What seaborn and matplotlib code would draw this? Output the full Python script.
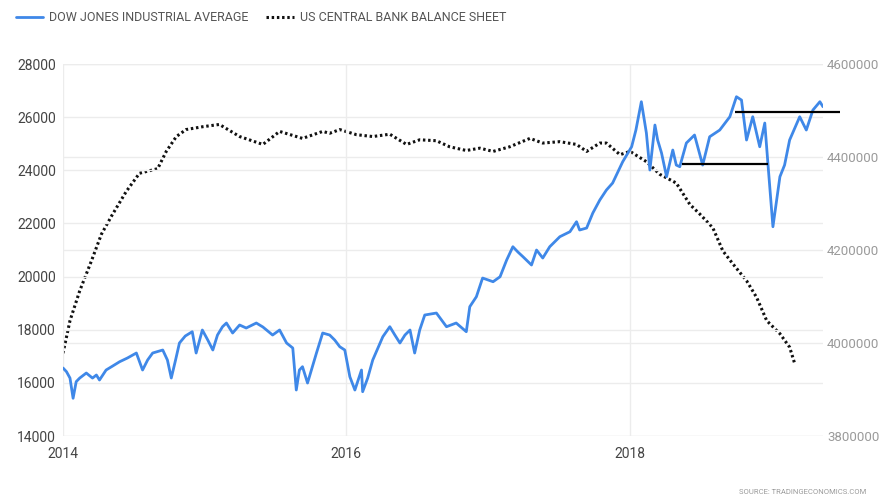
import matplotlib
matplotlib.use("Agg")
import matplotlib.pyplot as plt
import matplotlib.dates as mdates
from matplotlib.lines import Line2D
from matplotlib.ticker import StrMethodFormatter
import pandas as pd
import seaborn as sns

# Dow Jones Industrial Average (left axis)
dow_dates = [
    "2014-01-01", "2014-01-10", "2014-01-19", "2014-01-27", "2014-02-04", "2014-02-13",
    "2014-03-02", "2014-03-18", "2014-03-28", "2014-04-05", "2014-04-22", "2014-05-09",
    "2014-05-27", "2014-06-16", "2014-07-09", "2014-07-25", "2014-08-07", "2014-08-20",
    "2014-09-15", "2014-09-27", "2014-10-07", "2014-10-18", "2014-10-28", "2014-11-12",
    "2014-11-30", "2014-12-10", "2014-12-26", "2015-01-09", "2015-01-22", "2015-02-03",
    "2015-02-16", "2015-02-26", "2015-03-14", "2015-04-01", "2015-04-18", "2015-05-14",
    "2015-05-31", "2015-06-25", "2015-07-13", "2015-07-31", "2015-08-16", "2015-08-25",
    "2015-09-02", "2015-09-10", "2015-09-23", "2015-10-16", "2015-11-01", "2015-11-19",
    "2015-12-02", "2015-12-15", "2015-12-28", "2016-01-10", "2016-01-23", "2016-02-09",
    "2016-02-12", "2016-02-25", "2016-03-09", "2016-04-04", "2016-04-22", "2016-05-05",
    "2016-05-18", "2016-05-31", "2016-06-13", "2016-06-25", "2016-07-08", "2016-07-21",
    "2016-08-20", "2016-09-15", "2016-10-10", "2016-11-05", "2016-11-14", "2016-12-01",
    "2016-12-17", "2017-01-13", "2017-01-31", "2017-02-17", "2017-03-05", "2017-03-18",
    "2017-03-31", "2017-04-22", "2017-05-05", "2017-05-21", "2017-06-08", "2017-07-04",
    "2017-07-30", "2017-08-16", "2017-08-24", "2017-09-11", "2017-09-27", "2017-10-15",
    "2017-11-01", "2017-11-17", "2017-12-13", "2018-01-05", "2018-01-16", "2018-01-30",
    "2018-02-12", "2018-02-21", "2018-03-06", "2018-03-13", "2018-03-23", "2018-04-05",
    "2018-04-21", "2018-04-30", "2018-05-09", "2018-05-26", "2018-06-16", "2018-07-07",
    "2018-07-25", "2018-08-20", "2018-09-15", "2018-10-02", "2018-10-15", "2018-10-28",
    "2018-11-13", "2018-12-01", "2018-12-14", "2018-12-22", "2019-01-04", "2019-01-22",
    "2019-02-03", "2019-02-16", "2019-03-14", "2019-03-31", "2019-04-17", "2019-05-05",
    "2019-05-13",
]
dow_values = [
    16560, 16420, 16180, 15420, 16045, 16180,
    16370, 16180, 16295, 16107, 16483, 16634,
    16796, 16935, 17123, 16483, 16860, 17123,
    17236, 16860, 16182, 16860, 17500, 17763,
    17925, 17123, 17989, 17612, 17236, 17800,
    18113, 18252, 17876, 18177, 18064, 18252,
    18102, 17800, 17989, 17500, 17311, 15731,
    16483, 16608, 15994, 17123, 17876, 17800,
    17612, 17360, 17236, 16231, 15731, 16483,
    15667, 16182, 16860, 17737, 18113, 17800,
    17500, 17800, 17989, 17123, 17989, 18553,
    18628, 18113, 18252, 17925, 18866, 19242,
    19945, 19806, 19994, 20623, 21123, 20924,
    20747, 20435, 20999, 20698, 21123, 21500,
    21688, 22064, 21752, 21827, 22392, 22881,
    23257, 23520, 24322, 24886, 25515, 26580,
    25402, 24010, 25703, 25139, 24650, 23758,
    24762, 24197, 24134, 25026, 25327, 24197,
    25262, 25515, 26015, 26768, 26643, 25139,
    26015, 24886, 25778, 24272, 21876, 23758,
    24197, 25139, 26015, 25515, 26267, 26580,
    26392,
]

# US central bank balance sheet (right axis)
fed_dates = [
    "2014-01-01", "2014-01-19", "2014-02-13", "2014-03-15", "2014-04-10", "2014-05-06",
    "2014-06-13", "2014-07-17", "2014-09-02", "2014-09-24", "2014-10-20", "2014-11-14",
    "2014-12-26", "2015-02-08", "2015-04-01", "2015-05-31", "2015-07-13", "2015-09-10",
    "2015-11-01", "2015-11-19", "2015-12-15", "2016-01-27", "2016-03-09", "2016-04-22",
    "2016-06-04", "2016-07-08", "2016-08-20", "2016-09-23", "2016-11-05", "2016-12-10",
    "2017-01-13", "2017-02-25", "2017-04-18", "2017-05-21", "2017-07-04", "2017-08-16",
    "2017-09-11", "2017-10-15", "2017-11-01", "2017-12-06", "2018-01-01", "2018-02-12",
    "2018-03-18", "2018-04-30", "2018-06-04", "2018-06-30", "2018-08-02", "2018-08-28",
    "2018-09-23", "2018-10-28", "2018-11-23", "2018-12-19", "2019-01-22", "2019-02-16",
    "2019-03-01",
]
fed_values = [
    3978000, 4048000, 4112000, 4176000, 4234000, 4273000,
    4326000, 4365000, 4375000, 4412000, 4444000, 4459000,
    4465000, 4470000, 4444000, 4427000, 4455000, 4440000,
    4455000, 4451000, 4459000, 4448000, 4444000, 4449000,
    4427000, 4437000, 4435000, 4422000, 4414000, 4419000,
    4412000, 4422000, 4440000, 4430000, 4433000, 4427000,
    4412000, 4430000, 4430000, 4405000, 4412000, 4390000,
    4363000, 4344000, 4298000, 4277000, 4248000, 4198000,
    4170000, 4134000, 4098000, 4048000, 4020000, 3991000,
    3956000,
]

# Horizontal reference levels drawn on the Dow
support_dates = ["2018-05-14", "2018-12-22"]
support_level = 24250
resistance_dates = ["2018-09-28", "2019-06-25"]
resistance_level = 26200

left_ticks = [14000, 16000, 18000, 20000, 22000, 24000, 26000, 28000]
right_ticks = [3800000, 4000000, 4200000, 4400000, 4600000]
year_ticks = ["2014-01-01", "2016-01-01", "2018-01-01"]
x_range = ["2014-01-01", "2019-05-13"]

labels = ["DOW JONES INDUSTRIAL AVERAGE", "US CENTRAL BANK BALANCE SHEET"]
source_note = "SOURCE: TRADINGECONOMICS.COM"

dow = pd.DataFrame({"date": pd.to_datetime(dow_dates), "value": dow_values})
fed = pd.DataFrame({"date": pd.to_datetime(fed_dates), "value": fed_values})

sns.set_theme(style="white")
plt.rcParams["font.family"] = ["Roboto", "DejaVu Sans"]

BLUE = "#3f88e8"
GRID = "#ececec"
DOTS = (0, (0.8, 0.9))

fig = plt.figure(figsize=(8.83, 4.99), dpi=100)
ax = fig.add_axes([63 / 883, 1 - 436 / 499, 760 / 883, 372 / 499])
ax2 = ax.twinx()

# balance sheet axis sits behind the Dow axis
ax.set_zorder(ax2.get_zorder() + 1)
ax.patch.set_visible(False)

sns.lineplot(data=fed, x="date", y="value", ax=ax2, color="#111111",
             linewidth=2.2, linestyle=DOTS, legend=False)
sns.lineplot(data=dow, x="date", y="value", ax=ax, color=BLUE,
             linewidth=2.0, legend=False)

for dates, level in [(support_dates, support_level), (resistance_dates, resistance_level)]:
    ax.plot(pd.to_datetime(dates), [level, level], color="black", linewidth=1.6,
            clip_on=False, solid_capstyle="butt")

ax.set_xlim(pd.to_datetime(x_range))
ax.set_ylim(left_ticks[0], left_ticks[-1])
ax2.set_ylim(right_ticks[0], right_ticks[-1])
ax.set_yticks(left_ticks)
ax2.set_yticks(right_ticks)
ax2.yaxis.set_major_formatter(StrMethodFormatter("{x:.0f}"))
ax.set_xticks(pd.to_datetime(year_ticks))
ax.xaxis.set_major_formatter(mdates.DateFormatter("%Y"))

ax.grid(True, axis="both", color=GRID, linewidth=1.0)
ax2.grid(True, axis="y", color=GRID, linewidth=1.0)

for a in (ax, ax2):
    for s in a.spines.values():
        s.set_visible(False)
    a.set_xlabel("")
    a.set_ylabel("")

ax.tick_params(axis="y", length=0, pad=5, labelsize=10, labelcolor="#444444")
ax.tick_params(axis="x", length=0, pad=8, labelsize=10, labelcolor="#444444")
ax2.tick_params(axis="y", length=0, pad=3, labelsize=9.5, labelcolor="#9a9a9a")

handles = [
    Line2D([], [], color=BLUE, linewidth=2.0),
    Line2D([], [], color="#111111", linewidth=2.2, linestyle=DOTS),
]
fig.legend(handles, labels, loc="upper left", bbox_to_anchor=(0.005, 1.0), ncol=2,
           frameon=False, fontsize=9, labelcolor="#555555", handlelength=2.2,
           handletextpad=0.5, columnspacing=1.4)

fig.text(0.981, 0.008, source_note, ha="right", va="bottom", fontsize=5.5,
         color="#9a9a9a")

fig.savefig("out.png", dpi=100)
